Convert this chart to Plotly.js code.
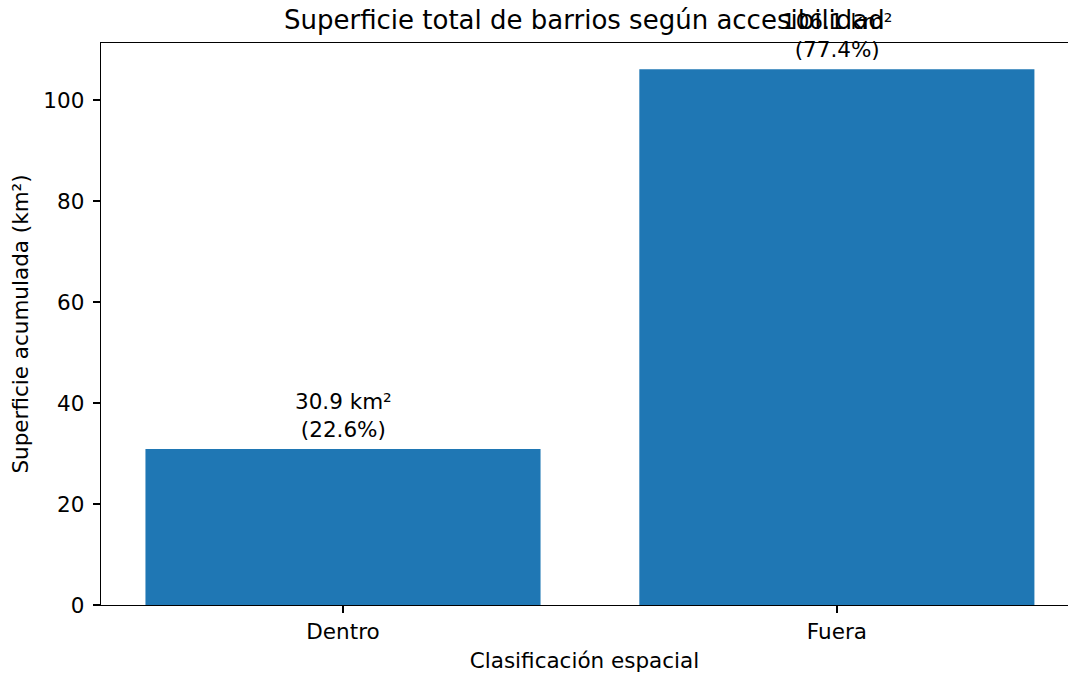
<!DOCTYPE html>
<html><head><meta charset="utf-8">
<script src="https://cdn.plot.ly/plotly-3.0.1.min.js"></script>
<style>html,body{margin:0;padding:0;background:#fff}</style>
</head><body><div id="chart" style="width:1068px;height:676px"></div>
<script>
const categories = ["Dentro", "Fuera"];
const areas = [30.9, 106.1];
const percents = [22.6, 77.4];
const barLabels = categories.map((c, i) => areas[i].toFixed(1) + " km²<br>(" + percents[i].toFixed(1) + "%)");

const font = "DejaVu Sans, sans-serif";
const trace = {
  type: "bar", x: [0, 1], y: areas, width: 0.8,
  marker: {color: "#1f77b4", line: {width: 0}},
  hoverinfo: "skip"
};
const annotations = areas.map((v, i) => ({
  x: i, y: v, xref: "x", yref: "y", text: barLabels[i], showarrow: false,
  yanchor: "bottom", yshift: 5, font: {family: font, size: 21.5, color: "#000"}
}));
annotations.push({
  text: "Superficie total de barrios según accesibilidad", xref: "paper", yref: "paper",
  x: 0.5, y: 1, yanchor: "bottom", yshift: 6, showarrow: false,
  font: {family: font, size: 26, color: "#000"}
});
const layout = {
  width: 1068, height: 676,
  margin: {l: 101, r: 0, t: 43, b: 71},
  paper_bgcolor: "#fff", plot_bgcolor: "#fff",
  showlegend: false,
  font: {family: font, size: 21.5, color: "#000"},
  xaxis: {
    range: [-0.49, 1.468], tickmode: "array", tickvals: [0, 1], ticktext: categories,
    showgrid: false, zeroline: false, showline: true, linecolor: "#000", linewidth: 1.3, mirror: true,
    ticks: "outside", ticklen: 7, tickwidth: 1.3, tickcolor: "#000", ticklabelstandoff: 0,
    tickfont: {family: font, size: 21.5},
    title: {text: "Clasificación espacial", font: {family: font, size: 21.5}, standoff: 10}
  },
  yaxis: {
    range: [0, 111.3], tickvals: [0, 20, 40, 60, 80, 100],
    showgrid: false, zeroline: false, showline: true, linecolor: "#000", linewidth: 1.3,
    ticks: "outside", ticklen: 7, tickwidth: 1.3, tickcolor: "#000", ticklabelstandoff: 4,
    tickfont: {family: font, size: 21.5},
    title: {text: "Superficie acumulada (km²)", font: {family: font, size: 21.5}, standoff: 8}
  },
  annotations: annotations
};
Plotly.newPlot("chart", [trace], layout, {displayModeBar: false, staticPlot: true});
</script></body></html>
